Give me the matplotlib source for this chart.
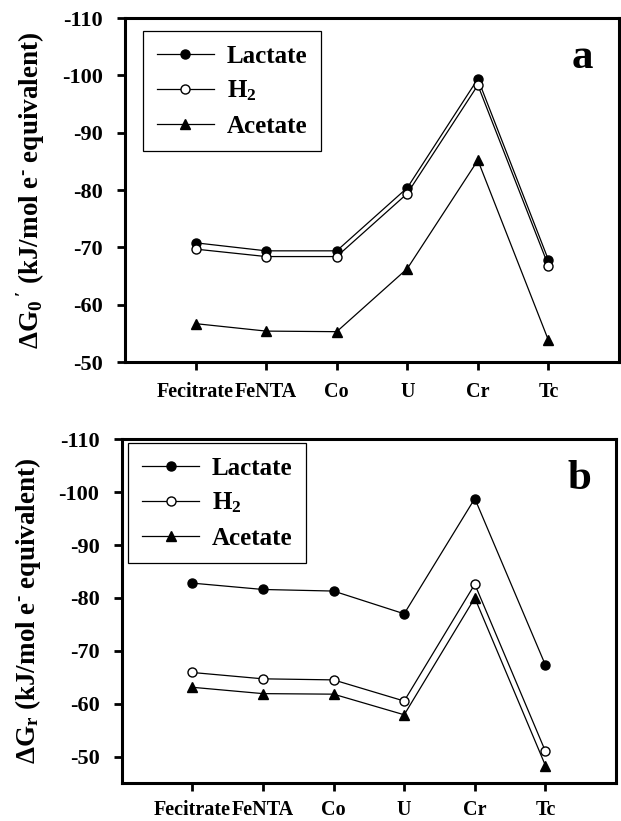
import numpy as np
import matplotlib
matplotlib.use('Agg')
import matplotlib.pyplot as plt

plt.rcParams['font.family'] = ['Liberation Serif', 'DejaVu Serif']
plt.rcParams['font.weight'] = 'bold'
plt.rcParams['mathtext.fontset'] = 'custom'
plt.rcParams['mathtext.rm'] = 'Liberation Serif:bold'
plt.rcParams['mathtext.bf'] = 'Liberation Serif:bold'
plt.rcParams['mathtext.it'] = 'Liberation Serif:bold'
plt.rcParams['mathtext.default'] = 'bf'

categories = ['Fecitrate', 'FeNTA', 'Co', 'U', 'Cr', 'Tc']

# panel a: standard free energy
a_lactate = [-70.8, -69.4, -69.4, -80.4, -99.4, -67.8]
a_h2 = [-69.7, -68.4, -68.4, -79.4, -98.3, -66.8]
a_acetate = [-56.7, -55.4, -55.3, -66.3, -85.2, -53.8]

# panel b: in situ free energy
b_lactate = [-82.8, -81.6, -81.3, -77.0, -98.8, -67.3]
b_h2 = [-65.9, -64.7, -64.5, -60.5, -82.6, -51.0]
b_acetate = [-63.1, -61.9, -61.8, -57.9, -80.0, -48.3]

yticks = [-110, -100, -90, -80, -70, -60, -50]

fig = plt.figure(figsize=(6.21, 8.21), dpi=100)
ax1 = fig.add_axes([0.2013, 0.559, 0.7955, 0.419])
ax2 = fig.add_axes([0.196, 0.0463, 0.796, 0.4186])

def draw(ax, lac, h2, ace, ylim, letter, ylabel, leg_anchor, xpad):
    x = np.arange(len(categories))
    ax.plot(x, lac, color='black', lw=0.9, marker='o', ms=6.5,
            mfc='black', mec='black', label='Lactate')
    ax.plot(x, h2, color='black', lw=0.9, marker='o', ms=6.5,
            mfc='white', mec='black', mew=1.0, label='H$_2$')
    ax.plot(x, ace, color='black', lw=0.9, marker='^', ms=6.5,
            mfc='black', mec='black', label='Acetate')
    ax.set_xlim(-1, 6)
    ax.set_ylim(*ylim)
    ax.set_xticks(x)
    ax.set_xticklabels(categories, fontsize=14.5, fontweight='bold')
    ax.set_yticks(yticks)
    ax.set_yticklabels([str(t) for t in yticks], fontsize=16, fontweight='bold')
    ax.tick_params(axis='both', direction='out', length=6, width=2)
    ax.tick_params(axis='x', pad=xpad)
    ax.tick_params(axis='y', pad=10)
    for s in ax.spines.values():
        s.set_linewidth(2.2)
    ax.set_ylabel(ylabel, fontsize=19.5, fontweight='bold', labelpad=11)
    ax.text(0.925, 0.885, letter, transform=ax.transAxes, fontsize=31,
            fontweight='bold', ha='center', va='center')
    leg = ax.legend(loc='upper left', bbox_to_anchor=leg_anchor, borderaxespad=0,
                    fontsize=18, handlelength=2.3, labelspacing=0.45,
                    fancybox=False, edgecolor='black', framealpha=1,
                    borderpad=0.55, handletextpad=0.5)
    leg.get_frame().set_linewidth(0.9)

draw(ax1, a_lactate, a_h2, a_acetate, (-50, -110), 'a',
     "ΔG$_0$$\\,'$ (kJ/mol e$^{\\text{-}}$ equivalent)", (0.036, 0.963), 8)
draw(ax2, b_lactate, b_h2, b_acetate, (-45, -110), 'b',
     'ΔG$_r$ (kJ/mol e$^{\\text{-}}$ equivalent)', (0.013, 0.99), 6)

fig.savefig('out.png', dpi=100)
